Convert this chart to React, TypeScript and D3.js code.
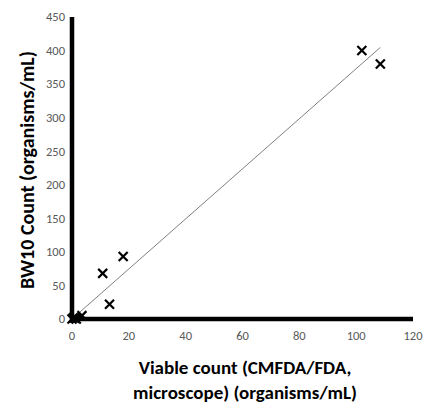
import React from "react";
import * as d3 from "d3";

// viable count (x) vs BW10 count (y)
const viable = [0, 0.5, 1, 1.5, 3.5, 10.8, 13.2, 18, 102, 108.5];
const bw10 = [0, 2, 1, 0, 5, 68, 22, 93, 400, 380];
const xTicks = [0, 20, 40, 60, 80, 100, 120];
const yTicks = [0, 50, 100, 150, 200, 250, 300, 350, 400, 450];
// trendline fitted in the original sheet
const trendSlope = 3.73;
const trendIntercept = 0;

const width = 425;
const height = 408;
const margin = { top: 17, right: 12, bottom: 89, left: 72 };

export default function App() {
  const x = d3.scaleLinear().domain([0, 120]).range([margin.left, width - margin.right]);
  const y = d3.scaleLinear().domain([0, 450]).range([height - margin.bottom, margin.top]);
  const pts = viable.map((v, i) => ({ x: v, y: bw10[i] }));
  const xMax = d3.max(viable) as number;
  const s = 4.5;
  const font = "Carlito, Lato, 'Open Sans', sans-serif";

  return (
    <svg width={width} height={height} style={{ position: "absolute", left: 0, top: 0 }}>
      {/* trendline */}
      <line x1={x(0)} y1={y(trendIntercept)} x2={x(xMax)} y2={y(trendIntercept + trendSlope * xMax)}
        stroke="#7f7f7f" strokeWidth={1} />
      {/* axes */}
      <line x1={x(0)} y1={y(450)} x2={x(0)} y2={y(0) + 2} stroke="#000" strokeWidth={4.5} />
      <line x1={x(0) - 2} y1={y(0)} x2={x(120)} y2={y(0)} stroke="#000" strokeWidth={4.5} />
      {yTicks.map(t => (
        <text key={"y" + t} x={x(0) - 7} y={y(t)} dy="0.35em" textAnchor="end" fontSize={12.5}
          fill="#595959" fontFamily={font}>{t}</text>
      ))}
      {xTicks.map(t => (
        <text key={"x" + t} x={x(t)} y={y(0) + 21} textAnchor="middle" fontSize={12.5}
          fill="#595959" fontFamily={font}>{t}</text>
      ))}
      {pts.map((p, i) => (
        <g key={i} transform={`translate(${x(p.x)},${y(p.y)})`} stroke="#000" strokeWidth={2.2}>
          <line x1={-s} y1={-s} x2={s} y2={s} />
          <line x1={-s} y1={s} x2={s} y2={-s} />
        </g>
      ))}
      <text x={245} y={374} textAnchor="middle" fontSize={19} fontWeight="bold" fontFamily={font}>
        Viable count (CMFDA/FDA,
      </text>
      <text x={245} y={399} textAnchor="middle" fontSize={19} fontWeight="bold" fontFamily={font}>
        microscope) (organisms/mL)
      </text>
      <text transform={`translate(34,${(y(0) + y(450)) / 2 + 2}) rotate(-90)`} textAnchor="middle"
        fontSize={20} fontWeight="bold" fontFamily={font}>
        BW10 Count (organisms/mL)
      </text>
    </svg>
  );
}
